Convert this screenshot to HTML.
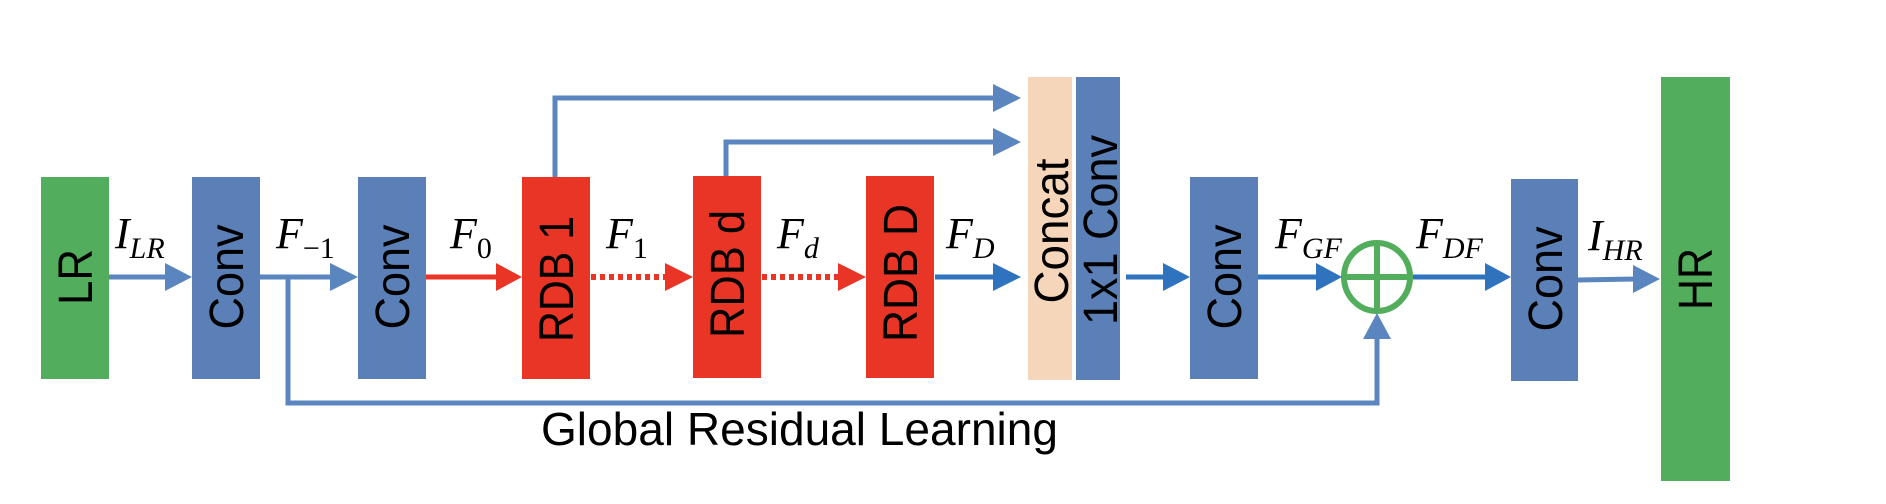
<!DOCTYPE html>
<html><head><meta charset="utf-8"><style>html,body{margin:0;padding:0;background:#fff}svg{display:block}</style></head>
<body>
<svg width="1886" height="504" viewBox="0 0 1886 504" xmlns="http://www.w3.org/2000/svg">
<g font-family="Liberation Sans, Arial, sans-serif" font-size="48" fill="#000">
<!-- boxes -->
<rect x="41" y="177" width="68" height="202" fill="#52AE5C"/>
<rect x="192" y="177" width="68" height="202" fill="#5B80B8"/>
<rect x="358" y="177" width="68" height="202" fill="#5B80B8"/>
<rect x="522" y="177" width="68" height="202" fill="#E93526"/>
<rect x="693" y="176" width="68" height="202" fill="#E93526"/>
<rect x="866" y="176" width="68" height="202" fill="#E93526"/>
<rect x="1028" y="77" width="44" height="303" fill="#F5D6BA"/>
<rect x="1076" y="77" width="44" height="303" fill="#5B80B8"/>
<rect x="1190" y="177" width="68" height="202" fill="#5B80B8"/>
<rect x="1511" y="179" width="67" height="202" fill="#5B80B8"/>
<rect x="1661" y="77" width="69" height="404" fill="#52AE5C"/>

<!-- box labels -->
<text transform="translate(92,277) rotate(-90)" text-anchor="middle" textLength="56" lengthAdjust="spacingAndGlyphs">LR</text>
<text transform="translate(243,277) rotate(-90)" text-anchor="middle" textLength="105" lengthAdjust="spacingAndGlyphs">Conv</text>
<text transform="translate(409,277) rotate(-90)" text-anchor="middle" textLength="105" lengthAdjust="spacingAndGlyphs">Conv</text>
<text transform="translate(573,279) rotate(-90)" text-anchor="middle" textLength="126" lengthAdjust="spacingAndGlyphs">RDB 1</text>
<text transform="translate(744,274) rotate(-90)" text-anchor="middle" textLength="128" lengthAdjust="spacingAndGlyphs">RDB d</text>
<text transform="translate(917,273) rotate(-90)" text-anchor="middle" textLength="138" lengthAdjust="spacingAndGlyphs">RDB D</text>
<text transform="translate(1068,231) rotate(-90)" text-anchor="middle" textLength="145" lengthAdjust="spacingAndGlyphs">Concat</text>
<text transform="translate(1117,230) rotate(-90)" text-anchor="middle" textLength="190" lengthAdjust="spacingAndGlyphs">1x1 Conv</text>
<text transform="translate(1241,277) rotate(-90)" text-anchor="middle" textLength="105" lengthAdjust="spacingAndGlyphs">Conv</text>
<text transform="translate(1562,279) rotate(-90)" text-anchor="middle" textLength="105" lengthAdjust="spacingAndGlyphs">Conv</text>
<text transform="translate(1712,279) rotate(-90)" text-anchor="middle" textLength="62" lengthAdjust="spacingAndGlyphs">HR</text>

<text x="541" y="445" font-size="46" textLength="517" lengthAdjust="spacingAndGlyphs">Global Residual Learning</text>
</g>

<!-- connectors -->
<g stroke-width="5" fill="none">
<g stroke="#5B85BF">
<line x1="109" y1="277" x2="167" y2="277"/>
<line x1="260" y1="277" x2="332" y2="277"/>
<polyline points="555,177 555,98 995,98"/>
<polyline points="726,176 726,142 995,142"/>
<polyline points="288,277 288,403 1377,403 1377,337"/>
<line x1="1578" y1="280" x2="1635" y2="279"/>
</g>
<g stroke="#2F72BE">
<line x1="935" y1="277" x2="995" y2="277"/>
<line x1="1126" y1="277" x2="1165" y2="277"/>
<line x1="1258" y1="277" x2="1318" y2="277"/>
<line x1="1413" y1="277" x2="1487" y2="277"/>
</g>
<g stroke="#E93526">
<line x1="426" y1="277" x2="498" y2="277"/>
<line x1="591" y1="277" x2="665" y2="277" stroke-dasharray="5,4" stroke-width="6"/>
<line x1="762" y1="277" x2="838" y2="277" stroke-dasharray="5,4" stroke-width="6"/>
</g>
<ellipse cx="1377" cy="277" rx="33" ry="34" stroke="#52AE5C" stroke-width="6"/>
<line x1="1344" y1="277" x2="1410" y2="277" stroke="#52AE5C" stroke-width="6"/>
<line x1="1377" y1="243" x2="1377" y2="311" stroke="#52AE5C" stroke-width="6"/>
</g>

<!-- arrowheads -->
<g fill="#5B85BF">
<polygon points="165,263 192,277 165,291"/>
<polygon points="330,263 358,277 330,291"/>
<polygon points="993,84 1021,98 993,112"/>
<polygon points="993,128 1021,142 993,156"/>
<polygon points="1363,339 1377,313 1391,339"/>
<polygon points="1633,265 1660,279 1633,293"/>
</g>
<g fill="#2F72BE">
<polygon points="993,263 1021,277 993,291"/>
<polygon points="1163,263 1190,277 1163,291"/>
<polygon points="1316,263 1342,277 1316,291"/>
<polygon points="1485,263 1511,277 1485,291"/>
</g>
<g fill="#E93526">
<polygon points="496,263 522,277 496,291"/>
<polygon points="665,263 693,277 665,291"/>
<polygon points="838,263 866,277 838,291"/>
</g>

<!-- math labels -->
<g font-family="Liberation Serif, serif" font-style="italic" fill="#000">
<text x="115" y="248" font-size="44">I<tspan font-size="30" dy="10">LR</tspan></text>
<text x="276" y="248" font-size="44">F<tspan font-size="30" font-style="normal" dy="10">−1</tspan></text>
<text x="450" y="248" font-size="44">F<tspan font-size="30" font-style="normal" dy="10">0</tspan></text>
<text x="606" y="248" font-size="44">F<tspan font-size="30" font-style="normal" dy="10">1</tspan></text>
<text x="777" y="248" font-size="44">F<tspan font-size="30" dy="10">d</tspan></text>
<text x="946" y="248" font-size="44">F<tspan font-size="30" dy="10">D</tspan></text>
<text x="1275" y="248" font-size="44">F<tspan font-size="30" dy="10">GF</tspan></text>
<text x="1416" y="248" font-size="44">F<tspan font-size="30" dy="10">DF</tspan></text>
<text x="1588" y="250" font-size="44">I<tspan font-size="30" dy="10">HR</tspan></text>
</g>
</svg>
</body></html>
